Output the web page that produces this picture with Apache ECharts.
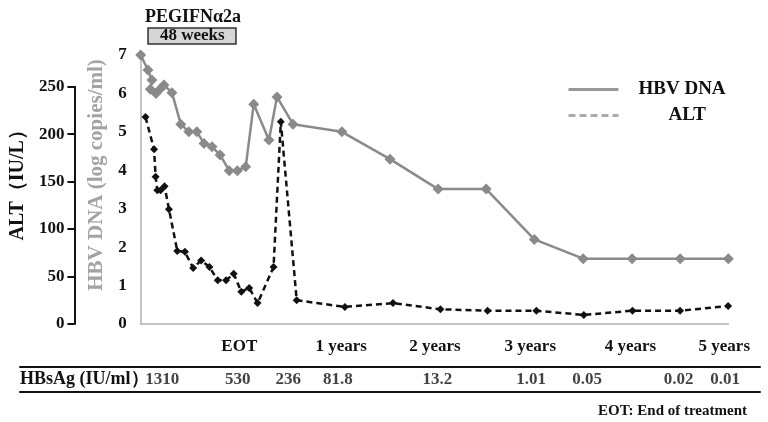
<!DOCTYPE html>
<html>
<head>
<meta charset="utf-8">
<script src="https://cdn.jsdelivr.net/npm/echarts@6/dist/echarts.min.js"></script>
<style>
html,body{margin:0;padding:0;background:#fff;}
#chart{width:768px;height:422px;}
</style>
</head>
<body>
<div id="chart"></div>
<script>
// ---- data (x in approximate months from start of therapy) ----
const dnaX = [0, 0.9, 1.4, 1.2, 1.9, 2.4, 2.9, 3.9, 5.0, 6.0, 7.0, 7.9, 8.9, 9.9, 11.05, 12.05, 13.1, 14.1, 16.0, 17.0, 19.0, 25.1, 31.1, 37.1, 43.1, 49.1, 55.2, 61.3, 67.3, 73.3];
const dnaY = [7.0, 6.61, 6.35, 6.11, 6.0, 6.11, 6.22, 6.02, 5.2, 5.0, 5.0, 4.7, 4.61, 4.4, 3.99, 3.99, 4.09, 5.72, 4.79, 5.91, 5.2, 5.0, 4.29, 3.51, 3.51, 2.2, 1.7, 1.7, 1.7, 1.7];
const altX = [0.3, 1.37, 1.57, 1.78, 2.19, 2.69, 3.24, 4.28, 5.24, 6.27, 7.27, 8.31, 9.35, 10.39, 11.35, 12.3, 13.29, 14.34, 16.34, 17.25, 19.24, 25.27, 31.3, 37.24, 43.15, 49.26, 55.2, 61.3, 67.26, 73.28];
const altY = [218, 184, 155, 141, 141, 145, 121, 77, 76, 59, 67, 60, 46, 46, 53, 34, 38, 22, 60, 213, 25, 18, 22, 15.5, 14, 14, 9.5, 14, 14, 19];
const xTickValues = [12.3, 25.0, 36.7, 48.6, 61.1, 72.8];
const xTickLabels = ['EOT', '1 years', '2 years', '3 years', '4 years', '5 years'];
const hbsagX = [2.7, 12.1, 18.4, 24.6, 37.0, 48.7, 55.7, 67.1, 72.9];
const hbsagVals = [1310, 530, 236, 81.8, 13.2, 1.01, 0.05, 0.02, 0.01];
const dnaTicks = {min: 0, max: 7, interval: 1};
const altTicks = {min: 0, max: 250, interval: 50};

const FONT = 'Liberation Serif';
const X_MAX = 73.3;
const G_LEFT = 140.7, G_RIGHT = 39.7;

const chart = echarts.init(document.getElementById('chart'), null, {renderer: 'canvas'});
const bold = (size, color) => ({fontFamily: FONT, fontWeight: 'bold', fontSize: size, color: color || '#111'});

chart.setOption({
  animation: false,
  backgroundColor: '#fff',
  title: [
    {text: 'PEGIFNα2a', left: 193, top: 8, textAlign: 'center', padding: 0, textStyle: bold(18)},
    {text: '48 weeks', left: 148, top: 29, padding: [0, 12], backgroundColor: '#d6d6d6', borderColor: '#333', borderWidth: 1.5,
     textStyle: Object.assign(bold(17), {lineHeight: 14})},
    {text: 'EOT: End of treatment', right: 21, top: 404, padding: 0, textStyle: bold(15)}
  ],
  legend: [
    {data: ['HBV DNA'], left: 567, top: 80, itemWidth: 50, itemHeight: 14, padding: 0,
     lineStyle: {color: '#999', width: 3, type: 'solid'}, itemStyle: {opacity: 0},
     textStyle: Object.assign(bold(19), {padding: [0, 0, 0, 15]})},
    {data: ['ALT'], left: 567, top: 106, itemWidth: 50, itemHeight: 14, padding: 0,
     lineStyle: {color: '#aaa', width: 3, type: [7, 4]}, itemStyle: {opacity: 0},
     textStyle: Object.assign(bold(19), {padding: [0, 0, 0, 45]})}
  ],
  grid: [
    {left: G_LEFT, right: G_RIGHT, top: 55, bottom: 98},
    {left: G_LEFT, right: G_RIGHT, top: 86.7, bottom: 98},
    {left: G_LEFT, right: G_RIGHT, top: 367, height: 25},
    {left: 20, right: 8, top: 367, height: 25}
  ],
  xAxis: [
    {gridIndex: 0, type: 'value', min: 0, max: X_MAX,
     axisLine: {show: true, onZero: false, lineStyle: {color: '#b0b0b0', width: 1.5}},
     axisTick: {show: false}, splitLine: {show: false},
     axisLabel: {show: true, customValues: xTickValues, margin: 14,
       formatter: function (v) {
         let best = 0;
         for (let i = 0; i < xTickValues.length; i++) if (Math.abs(xTickValues[i] - v) < Math.abs(xTickValues[best] - v)) best = i;
         return xTickLabels[best];
       }, ...bold(17)}},
    {gridIndex: 1, type: 'value', min: 0, max: X_MAX, show: false},
    {gridIndex: 2, type: 'value', min: 0, max: X_MAX, show: false},
    {gridIndex: 3, type: 'value', min: 0, max: 1, position: 'top',
     axisLine: {show: true, onZero: false, lineStyle: {color: '#111', width: 2}}, axisTick: {show: false}, axisLabel: {show: false}, splitLine: {show: false}},
    {gridIndex: 3, type: 'value', min: 0, max: 1, position: 'bottom',
     axisLine: {show: true, onZero: false, lineStyle: {color: '#111', width: 2}}, axisTick: {show: false}, axisLabel: {show: false}, splitLine: {show: false}}
  ],
  yAxis: [
    {gridIndex: 0, type: 'value', min: dnaTicks.min, max: dnaTicks.max, interval: dnaTicks.interval,
     axisLine: {show: true, onZero: false, lineStyle: {color: '#b0b0b0', width: 1.5}},
     axisTick: {show: false}, splitLine: {show: false},
     axisLabel: {margin: 14, ...bold(17)},
     name: 'HBV DNA (log copies/ml)', nameLocation: 'middle', nameGap: 29,
     nameTextStyle: Object.assign(bold(21, '#a3a3a3'), {padding: [0, 0, 0, 29]})},
    {gridIndex: 1, type: 'value', min: altTicks.min, max: altTicks.max, interval: altTicks.interval,
     position: 'left', offset: G_LEFT - 72,
     axisLine: {show: true, onZero: false, lineStyle: {color: '#111', width: 2}},
     axisTick: {show: true, inside: false, length: 7, lineStyle: {color: '#111', width: 2}},
     splitLine: {show: false},
     axisLabel: {margin: 10, ...bold(17)},
     name: 'ALT（IU/L）', nameLocation: 'middle', nameGap: 41,
     nameTextStyle: Object.assign(bold(20), {padding: [0, 0, 0, 50]})},
    {gridIndex: 2, type: 'value', min: 0, max: 1, show: false},
    {gridIndex: 3, type: 'category', data: ['HBsAg (IU/ml）'],
     axisLine: {show: false}, axisTick: {show: false},
     axisLabel: {inside: true, margin: 0, ...bold(18)}}
  ],
  series: [
    {name: 'HBV DNA', type: 'line', xAxisIndex: 0, yAxisIndex: 0,
     data: dnaX.map((x, i) => [x, dnaY[i]]),
     symbol: 'diamond', symbolSize: 11,
     lineStyle: {color: '#8a8a8a', width: 2.5},
     itemStyle: {color: '#8a8a8a'}, z: 2},
    {name: 'ALT', type: 'line', xAxisIndex: 1, yAxisIndex: 1,
     data: altX.map((x, i) => [x, altY[i]]),
     symbol: 'diamond', symbolSize: 8,
     lineStyle: {color: '#111', width: 2.5, type: [6, 4]},
     itemStyle: {color: '#111'}, z: 3},
    {name: 'HBsAg', type: 'scatter', xAxisIndex: 2, yAxisIndex: 2,
     data: hbsagX.map((x, i) => [x, 0.5, hbsagVals[i]]),
     symbolSize: 1, itemStyle: {color: 'rgba(0,0,0,0)'},
     label: {show: true, position: 'inside', formatter: p => String(p.value[2]), ...bold(17)},
     silent: true}
  ]
});
</script>
</body>
</html>
